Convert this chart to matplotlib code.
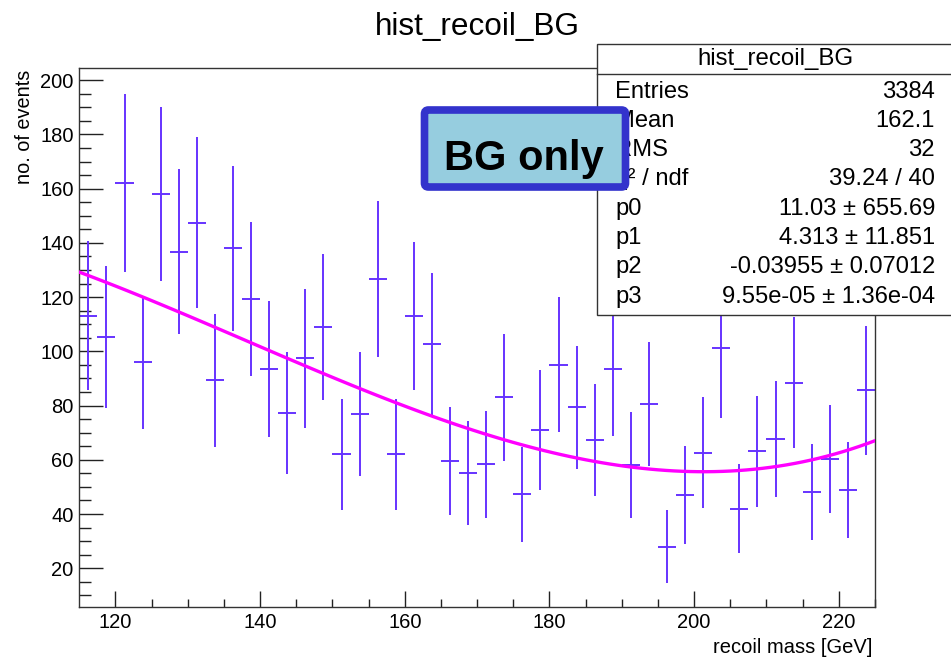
# Import libraries
import numpy as np
import matplotlib
matplotlib.use("Agg")
import matplotlib.pyplot as plt
from matplotlib.patches import Rectangle, FancyBboxPatch
from matplotlib.lines import Line2D
from matplotlib.transforms import IdentityTransform

# Declare variable
W, H = 951, 657
plt.rcParams['font.family'] = ['Liberation Sans', 'DejaVu Sans']

# histogram binning
x_low, x_high, n_bins = 115.0, 225.0, 44
# bin contents and errors
counts = [113.1, 105.3, 162.0, 96.0, 158.0, 136.8, 147.5, 89.3, 138.0, 119.3,
          93.5, 77.3, 97.4, 108.9, 62.1, 76.9, 126.6, 62.1, 113.1, 102.7,
          59.6, 55.1, 58.3, 83.0, 47.2, 70.9, 95.1, 79.3, 67.3, 93.4,
          58.0, 80.6, 27.9, 47.1, 62.6, 101.4, 41.9, 63.1, 67.7, 88.4,
          48.2, 60.4, 48.8, 85.6]
errors = [27.5, 26.3, 32.8, 24.5, 32.1, 30.3, 31.6, 24.4, 30.4, 28.4,
          25.0, 22.6, 25.6, 26.9, 20.5, 23.0, 28.8, 20.5, 27.2, 26.3,
          20.0, 19.2, 19.7, 23.4, 17.6, 22.2, 25.0, 22.8, 20.8, 24.8,
          19.6, 23.0, 13.5, 18.0, 20.4, 26.0, 16.4, 20.5, 21.3, 24.1,
          17.8, 19.9, 17.8, 23.8]
# fit parameters p0..p3 (pol3)
fit_pars = [11.03, 4.313, -0.03955, 9.55e-05]

stats_labels = ["Entries", "Mean", "RMS", "\u03c7\u00b2 / ndf", "p0", "p1", "p2", "p3"]
stats_values = ["3384", "162.1", "32", "39.24 / 40",
                "11.03 \u00b1 655.69", "4.313 \u00b1 11.851",
                "-0.03955 \u00b1 0.07012", "9.55e-05 \u00b1 1.36e-04"]


def fx(px):
    return px / W


def fy(py):
    return 1 - py / H


# Draw figure
fig = plt.figure(figsize=(W / 100, H / 100), dpi=100)
ax = fig.add_axes([fx(79.3), fy(607), fx(875) - fx(79.3), fy(68.3) - fy(607)])

## histogram with errors
edges = np.linspace(x_low, x_high, n_bins + 1)
centers = 0.5 * (edges[1:] + edges[:-1])
half_w = 0.5 * (edges[1] - edges[0])
ax.errorbar(centers, counts, yerr=errors, xerr=half_w, fmt='none',
            ecolor='#6633ff', elinewidth=1.4, capsize=0, zorder=2)

## fit curve
xf = np.linspace(x_low, x_high, 100)
yf = np.polyval(fit_pars[::-1], xf)
ax.plot(xf, yf, color='#ff00ff', lw=2.4, zorder=3)

ax.set_xlim(x_low, x_high)
ax.set_ylim(5.7, 204.4)
ax.set_xticks(np.arange(120, 221, 20))
ax.set_xticks(np.arange(120, 226, 5), minor=True)
ax.set_yticks(np.arange(20, 201, 20))
ax.set_yticks(np.arange(10, 205, 5), minor=True)
ax.tick_params(which='both', direction='in', top=False, right=False,
               labelsize=14.5, color='#222222', width=1.0)
ax.tick_params(axis='x', which='major', length=11.5, pad=4.5)
ax.tick_params(axis='x', which='minor', length=5.5)
ax.tick_params(axis='y', which='major', length=17, pad=4)
ax.tick_params(axis='y', which='minor', length=8.5)
for s in ax.spines.values():
    s.set_linewidth(1.0)
    s.set_color('#333333')

## titles
fig.text(fx(477.5), fy(35), "hist_recoil_BG", ha='center', va='baseline', fontsize=22.7)
fig.text(fx(872.7), fy(653), "recoil mass [GeV]", ha='right', va='baseline', fontsize=14.5)
fig.text(fx(25), fy(70), "no. of events", ha='center', va='top', rotation=90, fontsize=14.3)

## stats box
ident = IdentityTransform()
fig.add_artist(Rectangle((597, H - 315), 356, 271, transform=ident, facecolor='white',
                         edgecolor='#333333', lw=1.0, zorder=10))
fig.add_artist(Line2D([597, 953], [H - 74, H - 74], transform=ident, color='#333333',
                      lw=1.0, zorder=11))
fig.text(fx(775), fy(59.3), "hist_recoil_BG", ha='center', va='center', fontsize=17.3, zorder=12)
for k in range(len(stats_labels)):
    yy = fy(91.5 + 29.3 * k)
    fig.text(fx(615), yy, stats_labels[k], ha='left', va='center', fontsize=17.1, zorder=12)
    fig.text(fx(935), yy, stats_values[k], ha='right', va='center', fontsize=17.1, zorder=12)

## "BG only" label
fig.add_artist(FancyBboxPatch((424.5, H - 187), 201, 77, transform=ident,
                              boxstyle="round,pad=0,rounding_size=4",
                              facecolor='#96cddf', edgecolor='#3333cc', lw=5.5, zorder=20))
fig.text(fx(523.5), fy(170), "BG only", ha='center', va='baseline', fontsize=30,
         fontweight='bold', zorder=21)

plt.savefig("out.png", dpi=100)
